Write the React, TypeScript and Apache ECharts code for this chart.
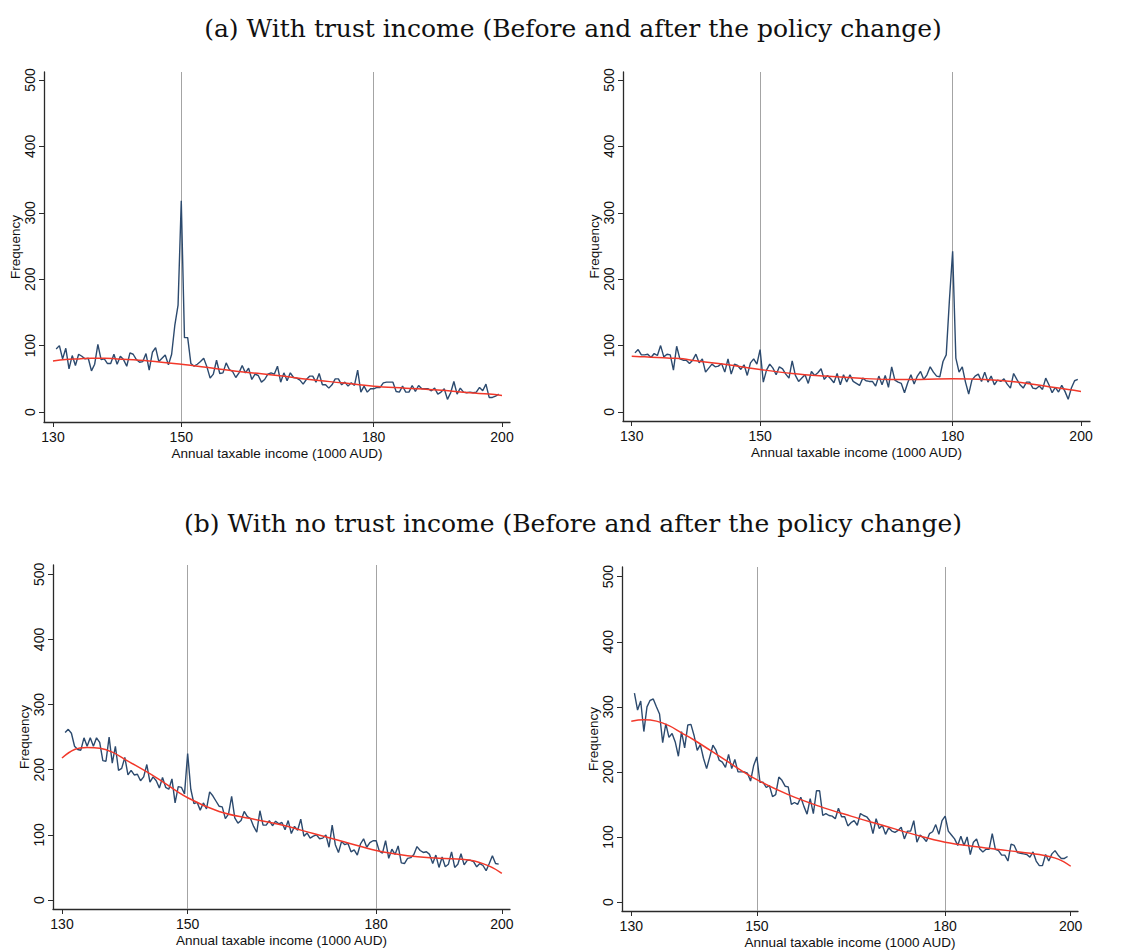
import React, { useEffect, useRef } from "react";
import * as echarts from "echarts";

// ---- Data ----
const binStart = 130.5;
const binWidth = 0.5;
const xTicks = [130, 150, 180, 200];
const yTicks = [0, 100, 200, 300, 400, 500];
const thresholds = [150, 180];

const panelTitles = [
  "(a) With trust income (Before and after the policy change)",
  "(b) With no trust income (Before and after the policy change)",
];

// Frequencies per 500 AUD bin, 130.5 … 199.5 (1000 AUD)
const trustBefore = [
  95, 100, 80, 96, 65, 85, 70, 87, 84, 80,
  81, 62, 72, 102, 79, 80, 73, 73, 87, 72,
  84, 79, 69, 89, 87, 79, 75, 76, 88, 63,
  90, 97, 76, 81, 86, 71, 87, 131, 161, 318,
  112, 112, 73, 69, 72, 76, 81, 68, 51, 57,
  78, 58, 59, 74, 64, 61, 52, 59, 70, 59,
  66, 49, 57, 55, 45, 49, 57, 59, 57, 69,
  45, 59, 47, 59, 52, 51, 48, 42, 49, 54,
  54, 45, 58, 41, 41, 36, 41, 50, 50, 41,
  45, 39, 44, 40, 63, 30, 39, 30, 35, 35,
  37, 37, 44, 45, 45, 45, 31, 30, 39, 30,
  30, 40, 31, 40, 35, 35, 35, 32, 36, 27,
  30, 35, 19, 29, 46, 27, 36, 30, 29, 30,
  29, 30, 37, 32, 42, 22, 22, 24, 27,
];

const trustAfter = [
  89, 94, 86, 86, 87, 82, 88, 85, 100, 83,
  87, 86, 63, 99, 80, 78, 78, 73, 78, 87,
  74, 80, 60, 66, 72, 68, 69, 73, 60, 80,
  57, 72, 70, 64, 71, 55, 74, 80, 72, 94,
  45, 63, 72, 66, 56, 68, 65, 57, 51, 77,
  55, 46, 51, 56, 43, 61, 55, 59, 65, 49,
  55, 50, 44, 58, 41, 56, 45, 56, 46, 43,
  40, 51, 47, 46, 46, 39, 54, 41, 55, 37,
  68, 48, 45, 43, 29, 44, 56, 42, 54, 61,
  49, 56, 68, 60, 54, 53, 76, 86, 169, 242,
  81, 60, 68, 45, 27, 48, 54, 57, 46, 60,
  45, 54, 41, 48, 46, 50, 42, 36, 58, 49,
  41, 36, 45, 45, 36, 35, 39, 34, 51, 41,
  29, 37, 30, 40, 31, 19, 36, 47, 49,
];

const noTrustBefore = [
  257, 262, 256, 236, 231, 230, 249, 236, 249, 236,
  249, 242, 214, 213, 250, 210, 236, 199, 202, 219,
  192, 199, 192, 193, 183, 189, 208, 181, 189, 183,
  172, 188, 173, 170, 186, 149, 174, 173, 163, 225,
  170, 148, 150, 138, 149, 140, 166, 160, 152, 144,
  143, 125, 132, 159, 126, 118, 122, 136, 128, 125,
  113, 104, 137, 115, 115, 122, 114, 121, 117, 119,
  108, 122, 102, 113, 107, 124, 98, 103, 95, 98,
  100, 94, 95, 100, 81, 115, 85, 73, 90, 85,
  87, 74, 77, 69, 86, 94, 81, 88, 91, 91,
  75, 72, 91, 64, 78, 70, 83, 57, 56, 64,
  65, 70, 82, 76, 73, 74, 70, 56, 69, 50,
  66, 51, 55, 74, 50, 55, 71, 54, 61, 61,
  59, 51, 56, 53, 45, 56, 68, 56, 55,
];

const noTrustAfter = [
  321, 295, 309, 262, 300, 310, 312, 300, 289, 245,
  274, 253, 259, 246, 224, 262, 237, 272, 273, 256,
  233, 242, 221, 205, 223, 241, 233, 218, 215, 207,
  227, 205, 219, 200, 200, 200, 198, 186, 210, 223,
  184, 184, 176, 179, 162, 165, 192, 187, 178, 177,
  150, 153, 150, 161, 147, 135, 159, 136, 171, 171,
  133, 136, 133, 132, 128, 144, 131, 131, 117, 122,
  125, 118, 136, 133, 131, 125, 105, 128, 113, 118,
  104, 114, 109, 107, 110, 115, 97, 109, 109, 125,
  92, 103, 99, 93, 105, 108, 119, 104, 125, 132,
  109, 103, 97, 87, 101, 87, 100, 73, 92, 97,
  82, 77, 81, 81, 105, 81, 79, 72, 72, 63,
  89, 87, 76, 75, 74, 73, 69, 77, 63, 56,
  56, 73, 63, 74, 79, 72, 67, 67, 70,
];

// Smoothed fitted counterfactual
const fitX = [130, 132, 134, 136, 138, 140, 145, 150, 155, 160, 165, 170, 175, 180, 185, 190, 195, 198, 200];
const fitTrustBefore = [77, 79, 80, 81, 81, 80, 77, 72, 66, 60, 55, 49, 44, 39, 36, 33, 29, 27, 25];
const fitTrustAfter = [84, 83, 82, 81, 80, 77, 71, 64, 58, 54, 51, 49, 49, 50, 49, 45, 38, 34, 31];
const fitNoTrustBefore = [218, 231, 234, 233, 227, 216, 188, 157, 136, 125, 115, 102, 89, 76, 68, 64, 61, 52, 41];
const fitNoTrustAfter = [278, 280, 278, 271, 260, 249, 218, 188, 165, 147, 132, 118, 104, 92, 85, 79, 73, 66, 55];

const seriesSets = [
  { bins: trustBefore, fit: fitTrustBefore },
  { bins: trustAfter, fit: fitTrustAfter },
  { bins: noTrustBefore, fit: fitNoTrustBefore },
  { bins: noTrustAfter, fit: fitNoTrustAfter },
];

// ---- Layout ----
const layouts = [
  { left: 44, top: 72, width: 466, height: 350, xMin: 128.6, xMax: 201.25, yMin: -15, yMax: 512 },
  { left: 623, top: 72, width: 467, height: 349, xMin: 128.64, xMax: 201.4, yMin: -13.6, yMax: 512 },
  { left: 53, top: 565, width: 457, height: 344, xMin: 128.57, xMax: 201.3, yMin: -13.8, yMax: 514.3 },
  { left: 622, top: 567, width: 456, height: 344, xMin: 128.52, xMax: 201.16, yMin: -13.8, yMax: 514.9 },
];

const SANS = "Liberation Sans, Arial, sans-serif";
const SERIF = "DejaVu Serif, serif";
const axisColor = "#2a2a2a";
const lineBlue = "#2c4a6e";
const fitRed = "#f2382a";

export default function App() {
  const ref = useRef<HTMLDivElement>(null);

  useEffect(() => {
    document.body.style.margin = "0";
    if (!ref.current) return;
    const chart = echarts.init(ref.current, null, { renderer: "svg" });

    const grids: any[] = [];
    const xAxes: any[] = [];
    const yAxes: any[] = [];
    const series: any[] = [];

    layouts.forEach((l, i) => {
      grids.push({ left: l.left, top: l.top, width: l.width, height: l.height, outerBoundsMode: "none", containLabel: false });
      xAxes.push({
        type: "value",
        gridIndex: i,
        min: l.xMin,
        max: l.xMax,
        name: "Annual taxable income (1000 AUD)",
        nameLocation: "middle",
        nameGap: 24,
        nameTextStyle: { fontFamily: SANS, fontSize: 13.5, color: "#111" },
        axisLine: { show: true, onZero: false, lineStyle: { color: axisColor, width: 1.3 } },
        axisTick: { show: true, customValues: xTicks, length: 5, lineStyle: { color: axisColor, width: 1 } },
        axisLabel: { show: true, customValues: xTicks, margin: 8, fontFamily: SANS, fontSize: 14, color: "#111" },
        splitLine: { show: false },
      });
      yAxes.push({
        type: "value",
        gridIndex: i,
        min: l.yMin,
        max: l.yMax,
        name: "Frequency",
        nameLocation: "middle",
        nameGap: 20,
        nameTextStyle: { fontFamily: SANS, fontSize: 13.5, color: "#111" },
        axisLine: { show: true, onZero: false, lineStyle: { color: axisColor, width: 1.3 } },
        axisTick: { show: true, customValues: yTicks, length: 5, lineStyle: { color: axisColor, width: 1 } },
        axisLabel: { show: true, customValues: yTicks, rotate: 90, margin: 7, fontFamily: SANS, fontSize: 14, color: "#111" },
        splitLine: { show: false },
      });
      const set = seriesSets[i];
      series.push({
        type: "line",
        xAxisIndex: i,
        yAxisIndex: i,
        data: set.bins.map((v, k) => [binStart + k * binWidth, v]),
        showSymbol: false,
        symbol: "none",
        lineStyle: { color: lineBlue, width: 1.4 },
        z: 3,
        markLine: {
          silent: true,
          symbol: "none",
          label: { show: false },
          lineStyle: { color: "#a4a4a4", width: 1, type: "solid" },
          data: thresholds.map((t) => ({ xAxis: t })),
          z: 1,
        },
      });
      series.push({
        type: "line",
        xAxisIndex: i,
        yAxisIndex: i,
        data: fitX.map((x, k) => [x, set.fit[k]]),
        showSymbol: false,
        symbol: "none",
        smooth: 0.4,
        lineStyle: { color: fitRed, width: 1.5 },
        z: 4,
      });
    });

    chart.setOption({
      animation: false,
      backgroundColor: "#ffffff",
      title: [
        {
          text: panelTitles[0],
          left: "center",
          top: 11,
          textStyle: { fontFamily: SERIF, fontSize: 25, fontWeight: "normal", color: "#111" },
        },
        {
          text: panelTitles[1],
          left: "center",
          top: 506,
          textStyle: { fontFamily: SERIF, fontSize: 25, fontWeight: "normal", color: "#111" },
        },
      ],
      grid: grids,
      xAxis: xAxes,
      yAxis: yAxes,
      series,
    });

    return () => chart.dispose();
  }, []);

  return <div ref={ref} style={{ width: 1146, height: 951 }} />;
}
